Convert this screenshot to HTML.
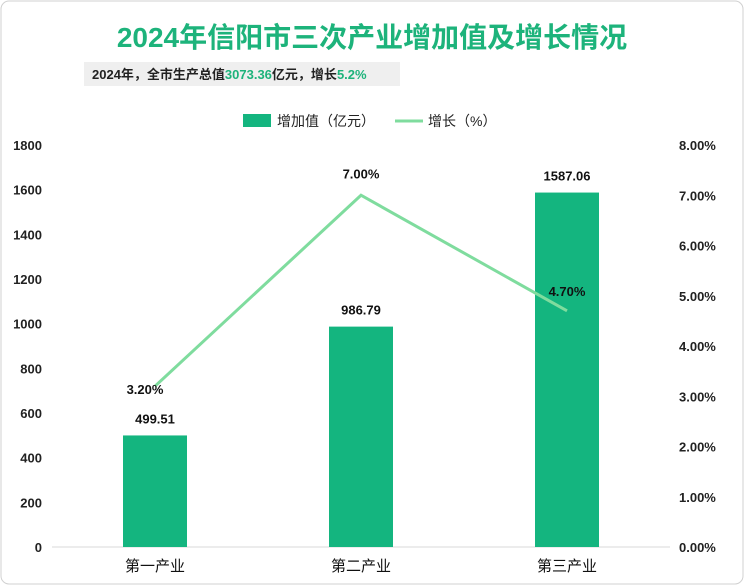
<!DOCTYPE html>
<html><head><meta charset="utf-8"><style>
body{margin:0;background:#fff;}
#wrap{position:relative;width:744px;height:585px;overflow:hidden;font-family:"Liberation Sans","Noto Sans CJK SC",sans-serif;}
</style></head><body>
<div id="wrap">
<svg id="chart" width="744" height="585" xmlns="http://www.w3.org/2000/svg">
<rect x="1" y="1" width="742" height="583" rx="8" fill="#fff" stroke="#d0d0d0"/>
<text x="372" y="47" text-anchor="middle" font-size="28" font-weight="bold" fill="#1db37b" font-family="Liberation Sans,Noto Sans CJK SC,sans-serif">2024年信阳市三次产业增加值及增长情况</text>
<rect x="84" y="62" width="316" height="24" fill="#efefef"/>
<text x="92" y="79" font-size="13" font-weight="bold" fill="#222">2024年，全市生产总值<tspan fill="#1db37b">3073.36</tspan>亿元，增长<tspan fill="#1db37b">5.2%</tspan></text>
<rect x="243" y="114" width="28" height="13" fill="#14b57f"/>
<text x="277" y="126" font-size="14" fill="#222">增加值（亿元）</text>
<line x1="395" y1="121" x2="423" y2="121" stroke="#7fdc9e" stroke-width="3"/>
<text x="428" y="126" font-size="14" fill="#222">增长（%）</text>
<g id="axes"></g><g id="marks"></g>
</svg>
</div>
<script>
const categories=["第一产业","第二产业","第三产业"];
const values=[499.51,986.79,1587.06];
const growth=[3.20,7.00,4.70];
const leftTicks=[0,200,400,600,800,1000,1200,1400,1600,1800];
const rightTicks=[0,1,2,3,4,5,6,7,8];
const NS="http://www.w3.org/2000/svg";
const y0=547,yTop=145;
const yL=v=>y0-(v/1800)*(y0-yTop);
const yR=v=>y0-(v/8)*(y0-yTop);
const xC=i=>155+i*206;
function mk(tag,attrs,parent,txt){const e=document.createElementNS(NS,tag);for(const k in attrs)e.setAttribute(k,attrs[k]);if(txt!==undefined)e.textContent=txt;parent.appendChild(e);return e;}
const ax=document.getElementById('axes'),mg=document.getElementById('marks');
let e=mk('line',{x1:52,y1:y0,x2:670,y2:y0,stroke:'#d9d9d9'},ax);


leftTicks.forEach(t=>{const l=mk('text',{x:42,y:yL(t)+5,'text-anchor':'end','font-size':13,'font-weight':'bold',fill:'#222'},ax,String(t));

});
rightTicks.forEach(t=>{const l=mk('text',{x:679,y:yR(t)+5,'font-size':13,'font-weight':'bold',fill:'#222'},ax,t.toFixed(2)+'%');

});
categories.forEach((c,i)=>{const l=mk('text',{x:xC(i),y:571,'text-anchor':'middle','font-size':15,fill:'#111'},ax,c);

});
values.forEach((v,i)=>{const r=mk('rect',{x:xC(i)-32,y:yL(v),width:64,height:y0-yL(v),fill:'#14b57f'},mg);


const l=mk('text',{x:xC(i),y:yL(v)-12,'text-anchor':'middle','font-size':13,'font-weight':'bold',fill:'#111'},mg,v.toFixed(2));

});
const pts=growth.map((g,i)=>xC(i)+','+yR(g)).join(' ');
const pl=mk('polyline',{points:pts,fill:'none',stroke:'#7fdc9e','stroke-width':3},mg);


const offs=[[-10,8],[0,-17],[0,-15]];
growth.forEach((g,i)=>{const l=mk('text',{x:xC(i)+offs[i][0],y:yR(g)+offs[i][1],'text-anchor':'middle','font-size':13,'font-weight':'bold',fill:'#111'},mg,g.toFixed(2)+'%');

});
</script>
</body></html>
